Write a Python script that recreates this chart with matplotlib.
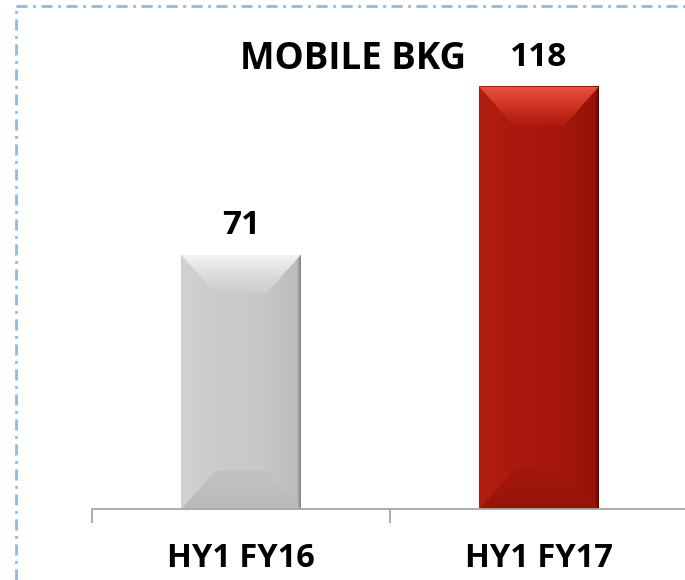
import matplotlib
matplotlib.use('agg')
import numpy as np
import matplotlib.pyplot as plt
from matplotlib.patches import Polygon
from matplotlib.lines import Line2D
from matplotlib.colors import LinearSegmentedColormap

categories = ['HY1 FY16', 'HY1 FY17']
values = [71, 118]
title = 'MOBILE BKG'

# colours per bar: body (left -> right), top face (top -> bottom), bottom face
bar_styles = [
    {'body': ['#d2d2d2', '#cbcbcb', '#c8c8c8', '#bdbdbd', '#7d7d7d'],
     'top': ['#f4f4f4', '#dcdcdc', '#cccccc'],
     'bottom': ['#c2c2c2', '#bababa']},
    {'body': ['#b41e12', '#aa190d', '#a6170b', '#981307', '#5c0700'],
     'top': ['#e8503f', '#cc3322', '#ad1a0e'],
     'bottom': ['#a3170b', '#981408']},
]

W, H = 685, 580
fig = plt.figure(figsize=(W / 100, H / 100), dpi=100)
plt.rcParams['font.family'] = ['Open Sans', 'DejaVu Sans']

ymax = 130
ax = fig.add_axes([92 / W, 71 / H, 596 / W, 465 / H])
ax.set_xlim(-0.5, 1.5)
ax.set_ylim(0, ymax)


def grad(ax, extent, colors, horizontal, clip=None, z=2):
    cmap = LinearSegmentedColormap.from_list('g', colors)
    g = np.linspace(0, 1, 256)
    img = g[None, :] if horizontal else g[:, None]
    im = ax.imshow(img, cmap=cmap, extent=extent, origin='upper' if not horizontal else 'lower',
                   aspect='auto', interpolation='bicubic', zorder=z)
    if clip is not None:
        im.set_clip_path(clip)
    return im


bw = 0.40
dx = 0.115
dy = 10.8
for i, (v, st) in enumerate(zip(values, bar_styles)):
    x0, x1 = i - bw / 2, i + bw / 2
    y0, y1 = 0, v
    cmap_body = st['body']
    # body with horizontal shading; last stop squeezed into the right edge
    grad(ax, [x0, x1 - 0.012, y0, y1], cmap_body[:4], True)
    grad(ax, [x1 - 0.012, x1, y0, y1], [cmap_body[3], cmap_body[4]], True)
    top = Polygon([(x0, y1), (x1, y1), (x1 - dx, y1 - dy), (x0 + dx, y1 - dy)],
                  closed=True, facecolor='none', edgecolor='none')
    ax.add_patch(top)
    grad(ax, [x0, x1, y1 - dy, y1], st['top'], False, clip=top, z=3)
    bot = Polygon([(x0, y0), (x1, y0), (x1 - dx, y0 + dy), (x0 + dx, y0 + dy)],
                  closed=True, facecolor='none', edgecolor='none')
    ax.add_patch(bot)
    grad(ax, [x0, x1, y0, y0 + dy], st['bottom'], False, clip=bot, z=3)
    ax.text(i, v + 8.2, str(v), ha='center', va='center', fontsize=24, fontweight='bold')
    ax.text(i, -13.7, categories[i], ha='center', va='center', fontsize=23.5,
            fontweight='bold', clip_on=False)

ax.set_xlim(-0.5, 1.5)
ax.set_ylim(0, ymax)
ax.text(0.376, 125.8, title, ha='center', va='center', fontsize=26.5, fontweight='bold')

for s in ['top', 'right', 'left']:
    ax.spines[s].set_visible(False)
ax.spines['bottom'].set_color('#a6a6a6')
ax.spines['bottom'].set_linewidth(1.3)
ax.spines['bottom'].set_zorder(5)
ax.set_yticks([])
ax.set_xticks([-0.5, 0.5, 1.5])
ax.set_xticklabels([])
ax.tick_params(axis='x', length=10, color='#a6a6a6', width=1.3)

# dash-dot frame on left and top
fig.add_artist(Line2D([16 / W, 16 / W], [0, 1 - 6 / H], transform=fig.transFigure,
                      color='#8fbbe3', lw=2, linestyle=(0, (4, 2, 1, 2))))
fig.add_artist(Line2D([16 / W, 1], [1 - 6 / H, 1 - 6 / H], transform=fig.transFigure,
                      color='#8fbbe3', lw=2, linestyle=(0, (4, 2, 1, 2))))

fig.savefig('out.png', dpi=100)
